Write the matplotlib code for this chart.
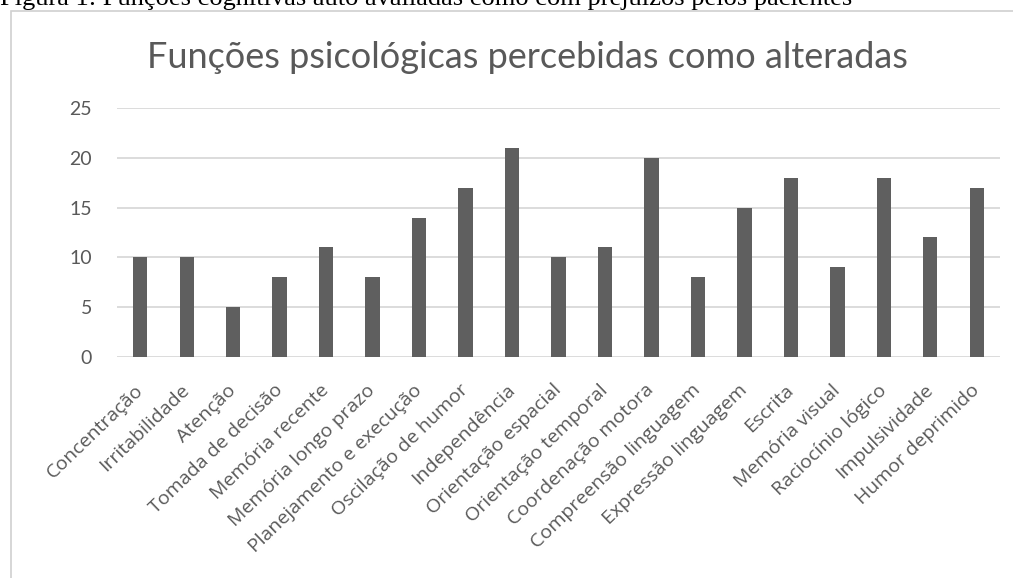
import matplotlib.pyplot as plt
from matplotlib.patches import Rectangle

categories = [
    "Concentração", "Irritabilidade", "Atenção", "Tomada de decisão",
    "Memória recente", "Memória longo prazo", "Planejamento e execução",
    "Oscilação de humor", "Independência", "Orientação espacial",
    "Orientação temporal", "Coordenação motora", "Compreensão linguagem",
    "Expressão linguagem", "Escrita", "Memória visual", "Raciocínio lógico",
    "Impulsividade", "Humor deprimido",
]
values = [10, 10, 5, 8, 11, 8, 14, 17, 21, 10, 11, 20, 8, 15, 18, 9, 18, 12, 17]
yticks = [0, 5, 10, 15, 20, 25]

TEXT = "#595959"
GRID = "#d9d9d9"
FONT = "Lato"

fig = plt.figure(figsize=(10.13, 5.78), dpi=100)
W, H = 1013, 578

# chart frame and (partly cropped) caption, as in the source page
fig.patches.append(Rectangle((11 / W, -0.1), 1.2, (H - 11) / H + 0.1,
                             transform=fig.transFigure, fill=False,
                             edgecolor="#d0d0d0", linewidth=1.2))
fig.text(0, 1 - 5 / H,
         "Figura 1: Funções cognitivas auto avaliadas como com prejuízos pelos pacientes",
         fontsize=19, family="Liberation Serif", color="black",
         va="baseline", ha="left")

ax = fig.add_axes([117 / W, 1 - 357 / H, (1000 - 117) / W, (357 - 108) / H])
x = range(len(categories))
ax.bar(x, values, width=0.31, color="#5f5f5f", zorder=3)
ax.set_xlim(-0.5, len(categories) - 0.5)
ax.set_ylim(0, 25)
ax.set_yticks(yticks)
ax.yaxis.grid(True, color=GRID, linewidth=1.3, zorder=0)
for s in ax.spines.values():
    s.set_visible(False)
ax.tick_params(length=0)
ax.tick_params(axis="y", pad=18, labelsize=14, labelcolor=TEXT)
ax.set_yticklabels([str(t) for t in yticks], family=FONT)
ax.set_xticks(list(x))
ax.set_xticklabels(categories, rotation=44, ha="right", va="center",
                   rotation_mode="anchor", family="Open Sans", fontsize=14,
                   color=TEXT)
ax.tick_params(axis="x", pad=22)

fig.text(527 / W, 1 - 58 / H, "Funções psicológicas percebidas como alteradas",
         ha="center", va="center", fontsize=26, family=FONT, color=TEXT)

fig.savefig("out.png", dpi=100)
